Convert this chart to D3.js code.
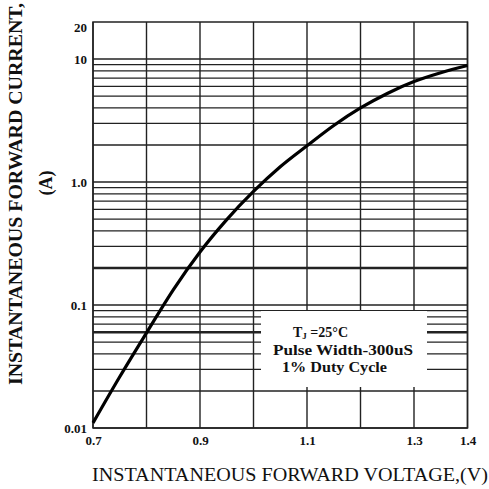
<!DOCTYPE html>
<html>
<head>
<meta charset="utf-8">
<script src="https://cdn.jsdelivr.net/npm/d3@7"></script>
<style>
  body { margin: 0; background: #fff; }
  text { font-family: "Liberation Serif", "DejaVu Serif", serif; font-weight: bold; fill: #111; }
</style>
</head>
<body>
<div id="chart"></div>
<script>
// forward voltage (V) vs instantaneous forward current (A)
const voltage = [0.7, 0.75, 0.8, 0.85, 0.9, 0.95, 1.0, 1.05, 1.1, 1.15, 1.2, 1.25, 1.3, 1.35, 1.4];
const current = [0.011, 0.0261, 0.0594, 0.133, 0.27, 0.495, 0.838, 1.33, 1.97, 2.88, 4.0, 5.25, 6.56, 7.74, 8.85];

const xGrid = [0.7, 0.8, 0.9, 1.0, 1.1, 1.2, 1.3, 1.4];
const xTicks = [0.7, 0.9, 1.1, 1.3, 1.4];
const xTickLabels = ["0.7", "0.9", "1.1", "1.3", "1.4"];
const yTicks = [0.01, 0.1, 1, 10, 20];
const yTickLabels = ["0.01", "0.1", "1.0", "10", "20"];
const yThick = [0.2, 0.06];

const noteLines = ["Pulse Width-300uS", "1% Duty Cycle"];

const width = 489, height = 489;

const svg = d3.select("#chart")
              .append("svg")
              .attr("width", width)
              .attr("height", height);

const x = d3.scaleLinear()
            .domain([0.7, 1.4])
            .range([93, 467.5]);

const y = d3.scaleLog()
            .domain([0.01, 20])
            .range([428, 22]);

const grid = svg.append("g").attr("stroke", "#222");

// horizontal log grid
grid.selectAll("line.h")
    .data(y.ticks().filter(d => d < 20))
    .enter()
    .append("line")
    .attr("x1", x(0.7))
    .attr("x2", x(1.4))
    .attr("y1", d => y(d))
    .attr("y2", d => y(d))
    .attr("stroke-width", d => yThick.some(t => Math.abs(t - d) < 1e-9) ? 2.6 : 1.3);

// vertical grid
grid.selectAll("line.v")
    .data(xGrid)
    .enter()
    .append("line")
    .attr("x1", d => x(d))
    .attr("x2", d => x(d))
    .attr("y1", y(20))
    .attr("y2", y(0.01))
    .attr("stroke-width", 1.4);

// frame
svg.append("rect")
   .attr("x", x(0.7))
   .attr("y", y(20))
   .attr("width", x(1.4) - x(0.7))
   .attr("height", y(0.01) - y(20))
   .attr("fill", "none")
   .attr("stroke", "#222")
   .attr("stroke-width", 1.5);

// note box covers the grid
svg.append("rect")
   .attr("x", 261)
   .attr("y", 311)
   .attr("width", 166)
   .attr("height", 76)
   .attr("fill", "#fff");

const note = svg.append("g").style("font-size", "14px");
const tj = note.append("text").attr("x", 293).attr("y", 337);
tj.append("tspan").text("T");
tj.append("tspan").attr("dy", 2).style("font-size", "9px").text("J");
tj.append("tspan").attr("dy", -2).text(" =25\u00B0C");

noteLines.forEach((t, i) => {
    note.append("text")
        .attr("x", i === 0 ? 273 : 282)
        .attr("y", 355 + i * 17)
        .attr("textLength", i === 0 ? 140 : 105)
        .attr("lengthAdjust", "spacingAndGlyphs")
        .text(t);
});

// curve
const line = d3.line()
               .x((d, i) => x(voltage[i]))
               .y(d => y(d))
               .curve(d3.curveMonotoneX);

svg.append("path")
   .datum(current)
   .attr("fill", "none")
   .attr("stroke", "#000")
   .attr("stroke-width", 3.2)
   .attr("d", line);

// tick labels
const yAxis = svg.append("g")
                 .attr("transform", `translate(${x(0.7)},0)`)
                 .call(d3.axisLeft(y).tickValues(yTicks).tickSize(0).tickPadding(6)
                         .tickFormat((d, i) => yTickLabels[i]));
yAxis.select(".domain").remove();
yAxis.selectAll("text")
     .style("font-size", "13px")
     .attr("dy", d => d === 20 ? "0.7em" : "0.35em");
yAxis.attr("font-family", null).attr("font-size", null);

const xAxis = svg.append("g")
                 .attr("transform", `translate(0,${y(0.01)})`)
                 .call(d3.axisBottom(x).tickValues(xTicks).tickSize(0).tickPadding(8)
                         .tickFormat((d, i) => xTickLabels[i]));
xAxis.select(".domain").remove();
xAxis.selectAll("text").style("font-size", "13px");
xAxis.attr("font-family", null).attr("font-size", null);

// axis titles
svg.append("text")
   .attr("x", 92)
   .attr("y", 481)
   .attr("textLength", 396)
   .attr("lengthAdjust", "spacingAndGlyphs")
   .style("font-size", "18px")
   .style("font-weight", "normal")
   .text("INSTANTANEOUS FORWARD VOLTAGE,(V)");

svg.append("text")
   .attr("transform", "translate(22,385) rotate(-90)")
   .attr("textLength", 382)
   .attr("lengthAdjust", "spacingAndGlyphs")
   .style("font-size", "18px")
   .text("INSTANTANEOUS FORWARD CURRENT,");

svg.append("text")
   .attr("transform", "translate(52,183) rotate(-90)")
   .attr("text-anchor", "middle")
   .style("font-size", "18px")
   .text("(A)");
</script>
</body>
</html>
